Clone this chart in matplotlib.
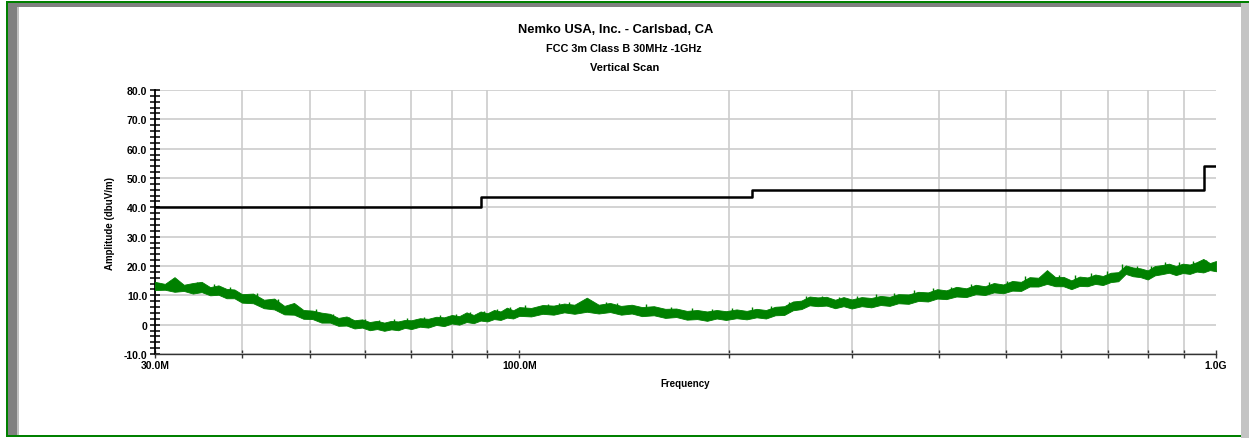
import numpy as np
import matplotlib
matplotlib.use("Agg")
import matplotlib.pyplot as plt
from matplotlib.patches import Rectangle
from matplotlib.ticker import FixedLocator, NullFormatter, MultipleLocator, FixedFormatter

plt.rcParams['font.family'] = ['Liberation Sans', 'DejaVu Sans']

W, H = 1249, 439

# scan trace (MHz, upper / lower edge of the green band in dBuV/m)
freq_mhz = [30, 31, 32, 33, 34, 35, 36, 37, 38, 39, 40, 41.5, 43, 44.5, 46, 47.5, 49, 50.5, 52, 53.5,
            55, 56.5, 58, 59.5, 61, 62.5, 64, 65.5, 67, 68.5, 70, 72, 74, 76, 78, 80, 82, 84, 86, 88,
            90, 92, 94, 96, 98, 100, 104, 108, 112, 116, 120, 125, 130, 135, 140, 145, 150, 156, 162, 168,
            174, 180, 186, 192, 198, 205, 212, 219, 226, 233, 240, 247, 254, 261, 268, 276, 284, 292, 300, 310,
            320, 330, 340, 350, 362, 374, 386, 398, 410, 424, 438, 452, 466, 480, 495, 510, 525, 540, 556, 572,
            588, 604, 620, 637, 654, 671, 688, 706, 724, 742, 760, 779, 798, 817, 836, 856, 876, 896, 917, 938,
            959, 980, 1000]
trace_hi = [14.6, 13.9, 16.2, 13.6, 14.2, 14.6, 12.8, 13.4, 12.2, 12.0, 10.4, 10.6, 8.5, 8.9, 6.4, 7.4, 5.0, 4.8, 4.1, 3.7,
            2.3, 2.8, 1.5, 1.8, 0.9, 1.3, 0.7, 1.3, 1.1, 1.6, 1.5, 2.2, 2.0, 2.7, 2.5, 3.3, 2.9, 4.2, 3.3, 4.5,
            3.9, 5.0, 4.5, 5.8, 4.9, 6.0, 5.7, 6.7, 6.5, 7.2, 6.8, 9.2, 6.8, 7.4, 6.4, 6.8, 6.0, 6.3, 5.4, 5.5,
            4.7, 5.0, 4.5, 5.0, 4.6, 5.2, 4.7, 5.4, 5.0, 6.1, 6.3, 7.9, 8.2, 9.6, 9.3, 9.5, 8.5, 9.4, 8.6, 9.4,
            9.1, 9.8, 9.5, 10.4, 10.3, 11.2, 11.0, 12.1, 11.7, 12.9, 12.4, 13.6, 13.1, 14.2, 13.7, 14.9, 14.6, 16.2, 16.0, 18.6,
            16.2, 16.3, 15.1, 16.4, 16.1, 17.1, 16.6, 17.7, 17.9, 20.2, 19.5, 19.2, 18.5, 20.0, 20.3, 20.8, 20.0, 20.8, 20.5, 21.3,
            22.4, 21.0, 21.7]
trace_lo = [11.8, 11.9, 11.2, 11.5, 10.6, 11.1, 10.0, 10.2, 9.0, 9.0, 7.5, 7.3, 5.6, 5.2, 3.5, 3.4, 2.0, 1.9, 0.7, 0.7,
            -0.4, -0.3, -1.3, -1.0, -1.9, -1.5, -2.1, -1.6, -1.9, -1.1, -1.5, -0.7, -1.0, -0.1, -0.5, 0.4, 0.0, 0.9, 0.5, 1.4,
            1.1, 1.9, 1.6, 2.4, 2.1, 3.0, 2.8, 3.7, 3.4, 4.2, 3.7, 4.4, 3.8, 4.3, 3.4, 3.8, 2.9, 3.2, 2.3, 2.6,
            1.7, 1.9, 1.3, 2.1, 1.6, 2.2, 1.8, 2.5, 2.1, 3.2, 3.3, 4.9, 5.3, 6.6, 6.3, 6.5, 5.6, 6.3, 5.5, 6.3,
            5.9, 6.7, 6.4, 7.3, 7.1, 8.1, 7.9, 8.9, 8.7, 9.6, 9.4, 10.4, 10.1, 11.0, 10.7, 11.6, 11.5, 13.0, 13.0, 13.9,
            13.1, 13.1, 12.1, 13.2, 13.1, 13.9, 13.5, 14.5, 14.8, 17.3, 16.5, 16.2, 15.4, 16.8, 17.2, 17.7, 16.9, 17.6, 17.3, 18.1,
            17.8, 18.6, 18.2]

# single noise spikes sticking out of the band
spike_mhz = [31.5, 34.5, 36.5, 38.5, 42, 45, 48, 51, 54, 57, 60, 63, 66, 69, 73, 77, 81, 85, 89, 93,
             97, 102, 110, 114, 118, 133, 138, 152, 165, 177, 189, 202, 216, 230, 244, 258, 272, 288, 305, 325,
             345, 368, 392, 417, 445, 473, 502, 532, 564, 596, 628, 662, 697, 733, 770, 808, 846, 886, 927, 969]
spike_lo = [12.0, 11.3, 10.5, 9.5, 7.5, 5.5, 3.6, 2.4, 1.0, -0.3, -1.0, -1.2, -1.0, -0.6, -0.2, 0.5, 0.8, 1.4, 2.0, 2.4,
            3.0, 3.4, 4.2, 4.4, 4.6, 4.6, 4.4, 3.8, 3.2, 2.4, 2.5, 2.6, 2.8, 3.4, 4.8, 7.0, 7.3, 6.9, 7.0, 7.2,
            7.9, 8.6, 9.4, 10.1, 10.8, 11.4, 12.0, 13.5, 14.3, 14.0, 13.5, 14.4, 14.8, 17.3, 17.0, 16.8, 18.0, 18.0, 18.5, 18.9]
spike_hi = [15.0, 14.6, 13.9, 13.0, 10.9, 8.6, 6.4, 5.5, 3.6, 2.6, 1.9, 1.7, 1.9, 2.3, 2.6, 3.2, 3.7, 4.2, 4.8, 5.4,
            5.9, 6.6, 7.2, 7.5, 7.8, 7.6, 7.4, 6.9, 6.0, 5.6, 5.5, 5.7, 6.0, 6.2, 7.8, 9.9, 9.8, 9.6, 9.8, 10.3,
            10.9, 11.8, 12.4, 13.0, 13.8, 14.7, 15.0, 16.7, 17.1, 17.0, 16.8, 17.6, 18.3, 20.8, 19.9, 19.9, 21.5, 21.2, 21.7, 22.0]

# FCC class B 3m limit
limit_edges_mhz = [30, 88, 216, 960, 1000]
limit_levels = [40, 43.5, 46, 54]

y_ticks = [-10, 0, 10, 20, 30, 40, 50, 60, 70, 80]
y_tick_labels = ["-10.0", "0", "10.0", "20.0", "30.0", "40.0", "50.0", "60.0", "70.0", "80.0"]
x_grid_mhz = [30, 40, 50, 60, 70, 80, 90, 100, 200, 300, 400, 500, 600, 700, 800, 900, 1000]
x_label_mhz = [30, 100, 1000]
x_label_text = ["30.0M", "100.0M", "1.0G"]

fig = plt.figure(figsize=(W / 100, H / 100), dpi=100)
fig.patch.set_facecolor("white")


def px_rect(x0, y0, x1, y1, color):
    fig.add_artist(Rectangle((x0 / W, 1 - y1 / H), (x1 - x0) / W, (y1 - y0) / H,
                             transform=fig.transFigure, facecolor=color, edgecolor="none", zorder=0))


# window frame
px_rect(8, 4, 1241, 8, "#808080")
px_rect(8, 4, 18, 436, "#808080")
px_rect(17, 8, 19, 436, "#c0c0c0")
px_rect(1241, 4, 1249, 439, "#c4c4c4")
px_rect(6, 2, 1249, 4, "#008000")
px_rect(6, 2, 8, 438, "#008000")
px_rect(6, 436, 1241, 438, "#008000")

ax = fig.add_axes([155 / W, 1 - 355 / H, (1216 - 155) / W, (355 - 91) / H])
ax.set_xscale("log")
ax.set_xlim(30e6, 1e9)
ax.set_ylim(-10, 80)

green = "#008000"
f_hz = np.array(freq_mhz) * 1e6
ax.fill_between(f_hz, trace_lo, trace_hi, color=green, linewidth=0.6, edgecolor=green, zorder=3)
ax.vlines(np.array(spike_mhz) * 1e6, spike_lo, spike_hi, color=green, linewidth=1.0, zorder=3)

lim_x = np.array(limit_edges_mhz) * 1e6
lim_y = limit_levels + [limit_levels[-1]]
ax.step(lim_x, lim_y, where="post", color="black", linewidth=1.8, zorder=4)

# axes, ticks, grid
ax.xaxis.set_major_locator(FixedLocator(np.array(x_label_mhz) * 1e6))
ax.xaxis.set_major_formatter(FixedFormatter(x_label_text))
ax.xaxis.set_minor_locator(FixedLocator(np.array(x_grid_mhz) * 1e6))
ax.xaxis.set_minor_formatter(NullFormatter())
ax.yaxis.set_major_locator(FixedLocator(y_ticks))
ax.yaxis.set_major_formatter(FixedFormatter(y_tick_labels))
ax.yaxis.set_minor_locator(MultipleLocator(2))

ax.grid(True, which="major", axis="y", color="#cccccc", linewidth=1.2, zorder=0)
ax.grid(True, which="minor", axis="x", color="#cccccc", linewidth=1.2, zorder=0)
ax.set_axisbelow(True)

ax.tick_params(axis="y", which="both", direction="inout", length=7, width=1.1, color="black",
               labelsize=7.5, pad=2)
ax.tick_params(axis="x", which="both", direction="inout", length=6, width=1.0, color="#333333",
               labelsize=7.5, pad=1)
for lab in ax.get_xticklabels() + ax.get_yticklabels():
    lab.set_fontweight("bold")

for side in ["top", "right"]:
    ax.spines[side].set_visible(False)
ax.spines["left"].set_linewidth(1.3)
ax.spines["bottom"].set_linewidth(1.0)
ax.spines["bottom"].set_color("#333333")

ax.set_ylabel("Amplitude (dbuV/m)", fontsize=7, fontweight="bold", labelpad=6)
ax.set_xlabel("Frequency", fontsize=7, fontweight="bold", labelpad=6)

fig.text(616 / W, 1 - 30 / H, "Nemko USA, Inc. - Carlsbad, CA", ha="center", va="center",
         fontsize=9.3, fontweight="bold")
fig.text(624 / W, 1 - 49 / H, "FCC 3m Class B 30MHz -1GHz", ha="center", va="center",
         fontsize=7.8, fontweight="bold")
fig.text(625 / W, 1 - 68 / H, "Vertical Scan", ha="center", va="center",
         fontsize=8, fontweight="bold")

fig.savefig("out.png", dpi=100)
